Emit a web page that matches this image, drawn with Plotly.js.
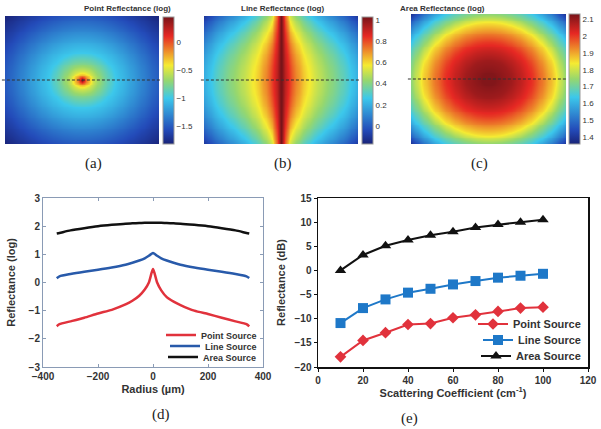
<!DOCTYPE html>
<html lang="en">
<head>
    <meta charset="UTF-8">
    <title>Reflectance maps and profiles</title>
    <script src="https://cdn.plot.ly/plotly-3.0.1.min.js"></script>
    <style>
        body { margin: 0; background: #fff; }
        #chart { width: 601px; height: 429px; }
    </style>
</head>
<body>
<div id="chart"></div>
<script>

// profiles along the dashed line (panel d), radius in um
let radiusUm = [-350,-340,-300,-250,-200,-150,-100,-75,-50,-30,-15,-5,0,5,15,30,50,75,100,150,200,250,300,340,350];
let pointLog = [-1.55,-1.48,-1.38,-1.25,-1.1,-0.97,-0.78,-0.65,-0.47,-0.25,0.0,0.35,0.48,0.35,0.0,-0.28,-0.52,-0.68,-0.8,-1.0,-1.12,-1.25,-1.38,-1.48,-1.56];
let lineLog  = [0.15,0.22,0.3,0.38,0.45,0.53,0.63,0.7,0.78,0.86,0.95,1.02,1.05,1.02,0.95,0.86,0.78,0.7,0.63,0.53,0.45,0.38,0.3,0.22,0.16];
let areaLog  = [1.74,1.76,1.85,1.93,2.0,2.05,2.09,2.1,2.11,2.12,2.12,2.12,2.12,2.12,2.12,2.12,2.11,2.1,2.09,2.05,2.0,1.93,1.85,1.76,1.74];

// values toward the map corners
let cornerRadius = [400, 450, 500];
let pointCorner  = [-1.62, -1.72, -1.82];
let areaCorner   = [1.64, 1.52, 1.38];

// panel e
let scatCoef   = [10,20,30,40,50,60,70,80,90,100];
let pointDb    = [-17.9,-14.5,-12.9,-11.2,-11.0,-9.8,-9.2,-8.5,-7.8,-7.6];
let lineDb     = [-10.9,-7.8,-6.0,-4.6,-3.8,-2.9,-2.2,-1.5,-1.1,-0.7];
let areaDb     = [0.0,3.2,5.1,6.3,7.3,8.0,8.9,9.5,10.0,10.5];

let sourceNames = ['Point Source', 'Line Source', 'Area Source'];

let W = 601, H = 429;
function px(x) { return x / W; }
function py(y) { return 1 - y / H; }

// right half of a profile + corner values
function halfProfile(vals, corner) {
    let r = [], v = [];
    radiusUm.forEach((x, i) => {
        if (x >= 0 && x < 350) { r.push(x); v.push(vals[i]); }
    });
    r.push(350); v.push(vals[radiusUm.indexOf(300)] + (vals[radiusUm.indexOf(340)] - vals[radiusUm.indexOf(300)]) * 1.25);
    if (corner) { cornerRadius.forEach((c, i) => { r.push(c); v.push(corner[i]); }); }
    return {r: r, v: v};
}
function lookup(p, d) {
    if (d <= p.r[0]) return p.v[0];
    for (let i = 1; i < p.r.length; i++) {
        if (d <= p.r[i]) {
            let t = (d - p.r[i-1]) / (p.r[i] - p.r[i-1]);
            return p.v[i-1] + t * (p.v[i] - p.v[i-1]);
        }
    }
    return p.v[p.v.length - 1];
}

let grid = [];
for (let g = -350; g <= 350; g += 10) grid.push(g);

let pProf = halfProfile(pointLog, pointCorner);
let lProf = halfProfile(lineLog, null);
let aProf = halfProfile(areaLog, areaCorner);

let zPoint = grid.map(y => grid.map(x => lookup(pProf, Math.hypot(x, y))));
let zArea  = grid.map(y => grid.map(x => lookup(aProf, Math.hypot(x, y))));
let zLine  = grid.map(y => grid.map(x =>
    lookup(lProf, Math.abs(x)) - 0.3 * Math.pow(Math.abs(y) / 350, 2) * Math.min(1, Math.abs(x) / 40)));

let jet = [
    [0, 'rgb(25,35,120)'], [0.11, 'rgb(35,75,185)'], [0.36, 'rgb(60,200,235)'],
    [0.5, 'rgb(150,215,110)'], [0.62, 'rgb(245,235,50)'], [0.85, 'rgb(230,40,35)'],
    [1, 'rgb(120,20,25)']
];

function cbar(x, top, bottom, ticks) {
    return {
        x: px(x), xanchor: 'left', xpad: 0,
        y: py((top + bottom) / 2), yanchor: 'middle', ypad: 0,
        len: bottom - top, lenmode: 'pixels', thickness: 11,
        outlinewidth: 1, outlinecolor: '#999',
        tickvals: ticks, ticks: '', tickfont: {family: 'Liberation Sans', size: 8, color: '#333'}
    };
}

let font = {family: 'Liberation Sans', color: '#333', weight: 'bold'};
let red = 'rgb(225,50,60)', blue = 'rgb(40,90,170)', blue2 = 'rgb(30,120,200)';

let data = [
    {type: 'heatmap', x: grid, y: grid, z: zPoint, xaxis: 'x', yaxis: 'y', colorscale: jet,
     zmin: -1.82, zmax: 0.45, zsmooth: 'best', hoverinfo: 'skip',
     colorbar: cbar(163, 17, 144, [0, -0.5, -1, -1.5])},
    {type: 'heatmap', x: grid, y: grid, z: zLine, xaxis: 'x2', yaxis: 'y2', colorscale: jet,
     zmin: -0.17, zmax: 1.03, zsmooth: 'best', hoverinfo: 'skip',
     colorbar: cbar(362, 17, 144, [0, 0.2, 0.4, 0.6, 0.8, 1])},
    {type: 'heatmap', x: grid, y: grid, z: zArea, xaxis: 'x3', yaxis: 'y3', colorscale: jet,
     zmin: 1.36, zmax: 2.13, zsmooth: 'best', hoverinfo: 'skip',
     colorbar: cbar(569, 14, 144, [1.4, 1.5, 1.6, 1.7, 1.8, 1.9, 2, 2.1])}
];

// panel d: one small legend per entry so the rows sit close together
let dSeries = [pointLog, lineLog, areaLog];
let dColors = [red, blue, '#111'];
dSeries.forEach((ys, i) => {
    data.push({type: 'scatter', mode: 'lines', name: sourceNames[i], x: radiusUm, y: ys,
        xaxis: 'x4', yaxis: 'y4', legend: i === 0 ? 'legend' : 'legend' + (i + 1),
        line: {color: dColors[i], width: 2.5, shape: 'spline', smoothing: 0.6}});
});

let eSeries = [pointDb, lineDb, areaDb];
let eColors = [red, blue2, '#111'];
let eSymbols = ['diamond', 'square', 'triangle-up'];
let eSizes = [9, 10, 10];
eSeries.forEach((ys, i) => {
    data.push({type: 'scatter', mode: 'lines+markers', name: sourceNames[i], x: scatCoef, y: ys,
        xaxis: 'x5', yaxis: 'y5', legend: 'legend' + (i + 4),
        line: {color: eColors[i], width: 2}, marker: {symbol: eSymbols[i], size: eSizes[i], color: eColors[i]}});
});

function mapAxis(left, right, anchor) {
    return {domain: [px(left), px(right)], range: [-350, 350], visible: false, fixedrange: true, anchor: anchor};
}
function mapYAxis(top, bottom, anchor) {
    return {domain: [py(bottom), py(top)], range: [-350, 350], visible: false, fixedrange: true, anchor: anchor};
}
function legendAt(right, y, size) {
    return {x: px(right), xanchor: 'right', y: py(y), yanchor: 'middle',
            bgcolor: 'rgba(0,0,0,0)', font: Object.assign({size: size}, font),
            itemwidth: 30, borderwidth: 0};
}

let layout = {
    width: W, height: H,
    margin: {l: 0, r: 0, t: 0, b: 0},
    paper_bgcolor: '#fff', plot_bgcolor: '#fff',
    font: {family: 'Liberation Sans', color: '#333'},
    showlegend: true,

    xaxis: mapAxis(5, 159, 'y'), yaxis: mapYAxis(16, 144, 'x'),
    xaxis2: mapAxis(204, 358, 'y2'), yaxis2: mapYAxis(16, 144, 'x2'),
    xaxis3: mapAxis(411, 566, 'y3'), yaxis3: mapYAxis(14, 144, 'x3'),

    xaxis4: {domain: [px(43), px(263)], anchor: 'y4', range: [-400, 400], tickvals: [-400, -200, 0, 200, 400],
             ticks: 'inside', ticklen: 3, tickcolor: '#8a9bb5', showline: true, mirror: 'ticks',
             linecolor: '#8a9bb5', showgrid: false, zeroline: false,
             tickfont: Object.assign({size: 10}, font),
             title: {text: 'Radius (\u00b5m)', font: Object.assign({size: 11}, font), standoff: 4}},
    yaxis4: {domain: [py(367), py(198)], anchor: 'x4', range: [-3, 3], dtick: 1,
             ticks: 'inside', ticklen: 3, tickcolor: '#8a9bb5', showline: true, mirror: 'ticks',
             linecolor: '#8a9bb5', showgrid: false, zeroline: false,
             tickfont: Object.assign({size: 10}, font),
             title: {text: 'Reflectance (log)', font: Object.assign({size: 11}, font), standoff: 10}},

    xaxis5: {domain: [px(318), px(588)], anchor: 'y5', range: [0, 120], dtick: 20,
             ticks: 'outside', ticklen: 3, tickcolor: '#111', showline: true, mirror: true,
             linecolor: '#111', linewidth: 1.5, showgrid: false, zeroline: false,
             tickfont: Object.assign({size: 10}, font),
             title: {text: 'Scattering Coefficient (cm<sup>-1</sup>)', font: Object.assign({size: 11}, font), standoff: 2}},
    yaxis5: {domain: [py(367), py(198)], anchor: 'x5', range: [-20, 15], dtick: 5,
             ticks: 'outside', ticklen: 3, tickcolor: '#111', showline: true, mirror: true,
             linecolor: '#111', linewidth: 1.5, showgrid: false, zeroline: false,
             tickfont: Object.assign({size: 10}, font),
             title: {text: 'Reflectance (dB)', font: Object.assign({size: 11}, font), standoff: 6}},

    legend:  legendAt(262, 335, 9),
    legend2: legendAt(262, 346, 9),
    legend3: legendAt(262, 357, 9),
    legend4: legendAt(586, 324, 11),
    legend5: legendAt(586, 340, 11),
    legend6: legendAt(586, 356, 11),

    shapes: [['x', 'y'], ['x2', 'y2'], ['x3', 'y3']].map(a => ({
        type: 'line', xref: a[0] + ' domain', yref: a[1], x0: -0.02, x1: 1.01, y0: 0, y1: 0,
        line: {color: '#333', width: 1, dash: '3px,2px'}
    })),

    annotations: [
        {text: 'Point Reflectance (log)', x: px(82), y: py(9)},
        {text: 'Line Reflectance (log)', x: px(282), y: py(9)},
        {text: 'Area Reflectance (log)', x: px(487), y: py(8)}
    ].map(a => Object.assign(a, {xref: 'paper', yref: 'paper', showarrow: false, yanchor: 'middle',
        font: {family: 'Liberation Sans', size: 8, color: '#333', weight: 'bold'}}))
    .concat([
        {text: '(a)', x: px(83), y: py(163)},
        {text: '(b)', x: px(283), y: py(163)},
        {text: '(c)', x: px(490), y: py(163)},
        {text: '(d)', x: px(150), y: py(414)},
        {text: '(e)', x: px(420), y: py(418)}
    ].map(a => Object.assign(a, {xref: 'paper', yref: 'paper', showarrow: false, yanchor: 'middle',
        font: {family: 'Liberation Serif', size: 15, color: '#222'}})))
};

Plotly.newPlot('chart', data, layout, {staticPlot: true});

</script>
</body>
</html>
